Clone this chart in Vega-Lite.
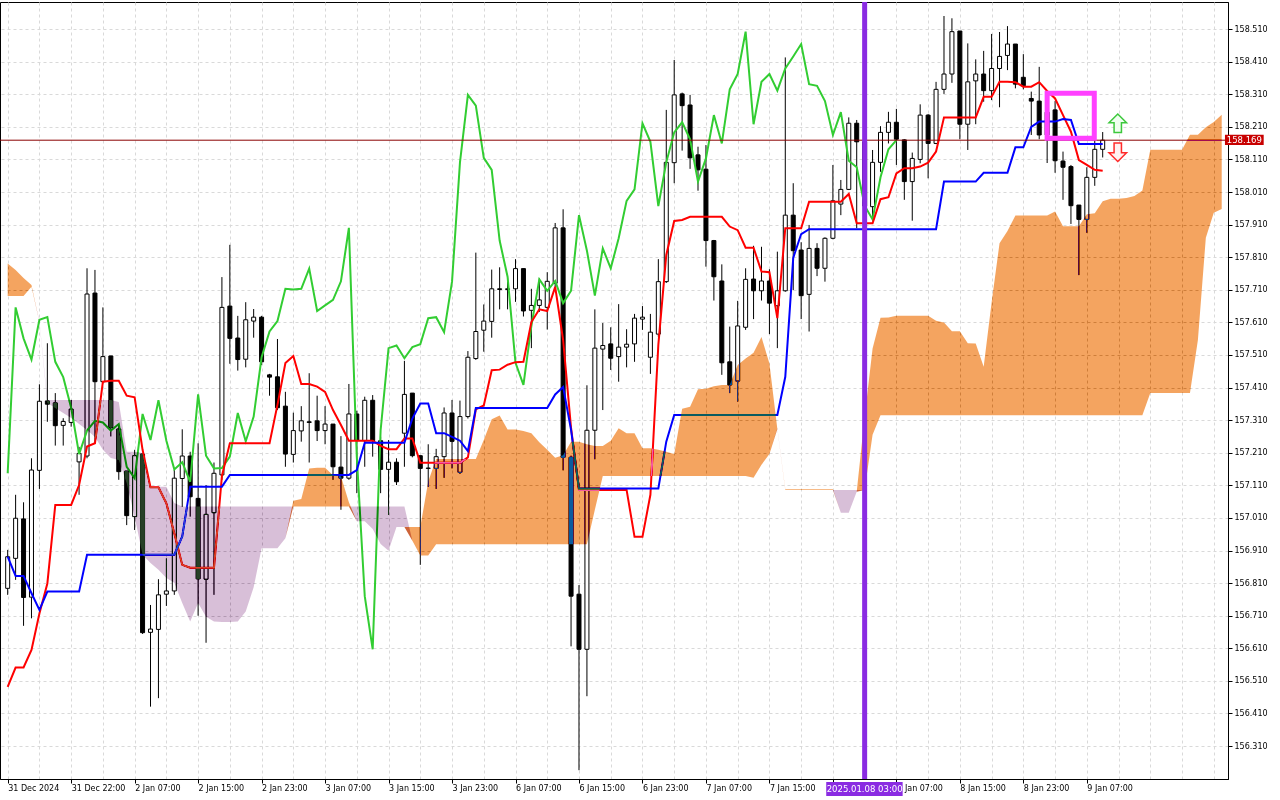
{
  "$schema": "https://vega.github.io/schema/vega-lite/v6.json",
  "width": 1228,
  "height": 777,
  "autosize": {"type": "none"},
  "padding": {"left": 0, "top": 2, "right": 52, "bottom": 21},
  "background": "white",
  "config": {
    "view": {"stroke": "black", "strokeWidth": 1},
    "axis": {
      "labelFont": "DejaVu Sans",
      "labelFontSize": 8,
      "labelColor": "black",
      "labelOverlap": false,
      "domainColor": "black",
      "tickColor": "black",
      "gridColor": "#d9d9d9",
      "gridDash": [3, 3],
      "gridWidth": 1
    }
  },
  "datasets": {
    "bars": [
      {"i":0,"o":156.794,"h":156.912,"l":156.774,"c":156.891,"t":156.492,"k":156.891,"ch":157.147},
      {"i":1,"o":156.886,"h":157.081,"l":156.820,"c":157.009,"t":156.551,"k":156.832,"ch":157.656},
      {"i":2,"o":157.007,"h":157.058,"l":156.679,"c":156.766,"t":156.551,"k":156.832,"ch":157.561},
      {"i":3,"o":156.767,"h":157.193,"l":156.702,"c":157.157,"t":156.605,"k":156.779,"ch":157.496},
      {"i":4,"o":157.156,"h":157.420,"l":157.099,"c":157.368,"t":156.717,"k":156.728,"ch":157.618},
      {"i":5,"o":157.369,"h":157.546,"l":157.305,"c":157.359,"t":156.809,"k":156.784,"ch":157.626},
      {"i":6,"o":157.363,"h":157.393,"l":157.232,"c":157.293,"t":157.050,"k":156.784,"ch":157.489},
      {"i":7,"o":157.294,"h":157.316,"l":157.232,"c":157.306,"t":157.050,"k":156.784,"ch":157.442},
      {"i":8,"o":157.303,"h":157.372,"l":157.290,"c":157.344,"t":157.050,"k":156.784,"ch":157.348},
      {"i":9,"o":157.182,"h":157.228,"l":157.081,"c":157.208,"t":157.111,"k":156.784,"ch":157.206},
      {"i":10,"o":157.200,"h":157.776,"l":157.193,"c":157.697,"t":157.229,"k":156.897,"ch":157.278},
      {"i":11,"o":157.700,"h":157.771,"l":157.239,"c":157.428,"t":157.239,"k":156.897,"ch":157.308},
      {"i":12,"o":157.428,"h":157.656,"l":157.423,"c":157.505,"t":157.428,"k":156.897,"ch":157.303},
      {"i":13,"o":157.507,"h":157.507,"l":157.260,"c":157.288,"t":157.431,"k":156.897,"ch":157.278},
      {"i":14,"o":157.283,"h":157.295,"l":157.127,"c":157.152,"t":157.431,"k":156.897,"ch":157.298},
      {"i":15,"o":157.154,"h":157.154,"l":156.988,"c":157.017,"t":157.385,"k":156.897,"ch":157.167},
      {"i":16,"o":157.014,"h":157.219,"l":156.973,"c":157.201,"t":157.380,"k":156.897,"ch":157.132},
      {"i":17,"o":157.206,"h":157.206,"l":156.654,"c":156.658,"t":157.219,"k":156.897,"ch":157.329},
      {"i":18,"o":156.659,"h":156.743,"l":156.431,"c":156.669,"t":157.104,"k":156.897,"ch":157.249},
      {"i":19,"o":156.668,"h":156.822,"l":156.457,"c":156.774,"t":157.104,"k":156.897,"ch":157.371},
      {"i":20,"o":156.776,"h":156.886,"l":156.740,"c":156.786,"t":157.055,"k":156.897,"ch":157.247},
      {"i":21,"o":156.786,"h":157.157,"l":156.774,"c":157.132,"t":156.963,"k":156.897,"ch":157.159},
      {"i":22,"o":157.131,"h":157.282,"l":157.044,"c":157.200,"t":156.866,"k":156.953,"ch":157.181},
      {"i":23,"o":157.200,"h":157.213,"l":157.014,"c":157.075,"t":156.857,"k":157.106,"ch":157.121},
      {"i":24,"o":157.070,"h":157.239,"l":156.710,"c":156.823,"t":156.857,"k":157.106,"ch":157.389},
      {"i":25,"o":156.822,"h":157.111,"l":156.627,"c":157.021,"t":156.857,"k":157.106,"ch":157.201},
      {"i":26,"o":157.026,"h":157.180,"l":156.774,"c":157.147,"t":156.857,"k":157.106,"ch":157.162},
      {"i":27,"o":157.142,"h":157.749,"l":157.127,"c":157.656,"t":157.139,"k":157.106,"ch":157.163},
      {"i":28,"o":157.660,"h":157.848,"l":157.483,"c":157.561,"t":157.239,"k":157.142,"ch":157.198},
      {"i":29,"o":157.562,"h":157.630,"l":157.462,"c":157.496,"t":157.239,"k":157.142,"ch":157.332},
      {"i":30,"o":157.497,"h":157.672,"l":157.472,"c":157.618,"t":157.239,"k":157.142,"ch":157.245},
      {"i":31,"o":157.614,"h":157.651,"l":157.563,"c":157.626,"t":157.239,"k":157.142,"ch":157.321},
      {"i":32,"o":157.626,"h":157.630,"l":157.479,"c":157.489,"t":157.239,"k":157.142,"ch":157.503},
      {"i":33,"o":157.449,"h":157.452,"l":157.385,"c":157.442,"t":157.239,"k":157.142,"ch":157.582},
      {"i":34,"o":157.443,"h":157.559,"l":157.341,"c":157.348,"t":157.357,"k":157.142,"ch":157.614},
      {"i":35,"o":157.353,"h":157.397,"l":157.167,"c":157.206,"t":157.485,"k":157.142,"ch":157.713},
      {"i":36,"o":157.205,"h":157.333,"l":157.180,"c":157.278,"t":157.507,"k":157.142,"ch":157.711},
      {"i":37,"o":157.277,"h":157.353,"l":157.244,"c":157.308,"t":157.421,"k":157.142,"ch":157.713},
      {"i":38,"o":157.305,"h":157.454,"l":157.180,"c":157.303,"t":157.421,"k":157.142,"ch":157.775},
      {"i":39,"o":157.308,"h":157.385,"l":157.246,"c":157.278,"t":157.413,"k":157.142,"ch":157.645},
      {"i":40,"o":157.278,"h":157.353,"l":157.236,"c":157.298,"t":157.397,"k":157.142,"ch":157.662},
      {"i":41,"o":157.298,"h":157.298,"l":157.127,"c":157.167,"t":157.341,"k":157.142,"ch":157.679},
      {"i":42,"o":157.166,"h":157.261,"l":157.035,"c":157.132,"t":157.295,"k":157.142,"ch":157.736},
      {"i":43,"o":157.132,"h":157.421,"l":157.127,"c":157.329,"t":157.247,"k":157.142,"ch":157.900},
      {"i":44,"o":157.329,"h":157.339,"l":157.086,"c":157.249,"t":157.247,"k":157.157,"ch":157.196},
      {"i":45,"o":157.247,"h":157.382,"l":157.167,"c":157.371,"t":157.247,"k":157.241,"ch":156.770},
      {"i":46,"o":157.371,"h":157.387,"l":157.198,"c":157.247,"t":157.247,"k":157.241,"ch":156.607},
      {"i":47,"o":157.247,"h":157.259,"l":157.086,"c":157.159,"t":157.231,"k":157.241,"ch":157.279},
      {"i":48,"o":157.159,"h":157.249,"l":157.019,"c":157.181,"t":157.221,"k":157.241,"ch":157.531},
      {"i":49,"o":157.181,"h":157.193,"l":157.111,"c":157.121,"t":157.221,"k":157.241,"ch":157.539},
      {"i":50,"o":157.270,"h":157.492,"l":157.167,"c":157.389,"t":157.254,"k":157.241,"ch":157.500},
      {"i":51,"o":157.393,"h":157.393,"l":157.196,"c":157.201,"t":157.254,"k":157.315,"ch":157.534},
      {"i":52,"o":157.201,"h":157.201,"l":156.866,"c":157.162,"t":157.179,"k":157.361,"ch":157.543},
      {"i":53,"o":157.162,"h":157.236,"l":157.105,"c":157.163,"t":157.179,"k":157.361,"ch":157.623},
      {"i":54,"o":157.162,"h":157.222,"l":157.099,"c":157.198,"t":157.179,"k":157.270,"ch":157.626},
      {"i":55,"o":157.198,"h":157.349,"l":157.133,"c":157.332,"t":157.179,"k":157.270,"ch":157.580},
      {"i":56,"o":157.332,"h":157.372,"l":157.162,"c":157.245,"t":157.179,"k":157.259,"ch":157.735},
      {"i":57,"o":157.150,"h":157.370,"l":157.145,"c":157.321,"t":157.179,"k":157.247,"ch":158.101},
      {"i":58,"o":157.321,"h":157.522,"l":157.315,"c":157.503,"t":157.196,"k":157.215,"ch":158.308},
      {"i":59,"o":157.499,"h":157.824,"l":157.495,"c":157.582,"t":157.343,"k":157.347,"ch":158.275},
      {"i":60,"o":157.586,"h":157.665,"l":157.520,"c":157.614,"t":157.355,"k":157.347,"ch":158.115},
      {"i":61,"o":157.613,"h":157.772,"l":157.563,"c":157.713,"t":157.463,"k":157.347,"ch":158.078},
      {"i":62,"o":157.713,"h":157.779,"l":157.650,"c":157.711,"t":157.465,"k":157.347,"ch":157.861},
      {"i":63,"o":157.711,"h":157.747,"l":157.650,"c":157.713,"t":157.480,"k":157.347,"ch":157.750},
      {"i":64,"o":157.713,"h":157.804,"l":157.673,"c":157.775,"t":157.488,"k":157.347,"ch":157.486},
      {"i":65,"o":157.775,"h":157.775,"l":157.628,"c":157.645,"t":157.489,"k":157.347,"ch":157.418},
      {"i":66,"o":157.647,"h":157.713,"l":157.531,"c":157.662,"t":157.611,"k":157.347,"ch":157.599},
      {"i":67,"o":157.662,"h":157.745,"l":157.642,"c":157.679,"t":157.650,"k":157.347,"ch":157.742},
      {"i":68,"o":157.656,"h":157.764,"l":157.588,"c":157.736,"t":157.645,"k":157.347,"ch":157.707},
      {"i":69,"o":157.730,"h":157.915,"l":157.709,"c":157.900,"t":157.719,"k":157.389,"ch":157.737},
      {"i":70,"o":157.900,"h":157.957,"l":157.156,"c":157.196,"t":157.556,"k":157.412,"ch":157.669},
      {"i":71,"o":157.196,"h":157.201,"l":156.616,"c":156.770,"t":157.286,"k":157.280,"ch":157.707},
      {"i":72,"o":156.776,"h":156.804,"l":156.236,"c":156.607,"t":157.096,"k":157.100,"ch":157.939},
      {"i":73,"o":156.607,"h":157.417,"l":156.463,"c":157.279,"t":157.096,"k":157.100,"ch":157.830},
      {"i":74,"o":157.279,"h":157.650,"l":157.190,"c":157.531,"t":157.096,"k":157.100,"ch":157.692},
      {"i":75,"o":157.528,"h":157.608,"l":157.341,"c":157.539,"t":157.096,"k":157.100,"ch":157.837},
      {"i":76,"o":157.544,"h":157.595,"l":157.464,"c":157.500,"t":157.096,"k":157.100,"ch":157.776},
      {"i":77,"o":157.505,"h":157.666,"l":157.428,"c":157.534,"t":157.096,"k":157.100,"ch":157.868},
      {"i":78,"o":157.534,"h":157.589,"l":157.472,"c":157.543,"t":157.096,"k":157.100,"ch":157.983},
      {"i":79,"o":157.544,"h":157.636,"l":157.489,"c":157.623,"t":156.952,"k":157.100,"ch":158.018},
      {"i":80,"o":157.620,"h":157.660,"l":157.587,"c":157.626,"t":156.952,"k":157.100,"ch":158.221},
      {"i":81,"o":157.503,"h":157.636,"l":157.452,"c":157.580,"t":157.081,"k":157.100,"ch":158.164},
      {"i":82,"o":157.574,"h":157.804,"l":157.566,"c":157.735,"t":157.541,"k":157.100,"ch":157.967},
      {"i":83,"o":157.735,"h":158.262,"l":157.731,"c":158.101,"t":157.817,"k":157.244,"ch":158.101},
      {"i":84,"o":158.100,"h":158.415,"l":158.037,"c":158.308,"t":157.921,"k":157.326,"ch":158.193},
      {"i":85,"o":158.311,"h":158.315,"l":158.137,"c":158.275,"t":157.924,"k":157.326,"ch":158.224},
      {"i":86,"o":158.277,"h":158.308,"l":158.081,"c":158.115,"t":157.934,"k":157.326,"ch":158.172},
      {"i":87,"o":158.124,"h":158.149,"l":158.014,"c":158.078,"t":157.934,"k":157.326,"ch":158.042},
      {"i":88,"o":158.080,"h":158.154,"l":157.781,"c":157.861,"t":157.934,"k":157.326,"ch":158.113},
      {"i":89,"o":157.861,"h":157.863,"l":157.677,"c":157.750,"t":157.934,"k":157.326,"ch":158.246},
      {"i":90,"o":157.737,"h":157.788,"l":157.449,"c":157.486,"t":157.934,"k":157.326,"ch":158.159},
      {"i":91,"o":157.489,"h":157.597,"l":157.393,"c":157.418,"t":157.904,"k":157.326,"ch":158.325},
      {"i":92,"o":157.430,"h":157.676,"l":157.367,"c":157.599,"t":157.893,"k":157.326,"ch":158.372},
      {"i":93,"o":157.595,"h":157.776,"l":157.587,"c":157.742,"t":157.839,"k":157.326,"ch":158.502},
      {"i":94,"o":157.743,"h":157.845,"l":157.620,"c":157.707,"t":157.839,"k":157.326,"ch":158.218},
      {"i":95,"o":157.707,"h":157.842,"l":157.677,"c":157.737,"t":157.766,"k":157.326,"ch":158.348},
      {"i":96,"o":157.737,"h":157.773,"l":157.574,"c":157.669,"t":157.764,"k":157.326,"ch":158.372},
      {"i":97,"o":157.661,"h":157.827,"l":157.531,"c":157.707,"t":157.623,"k":157.326,"ch":158.321},
      {"i":98,"o":157.707,"h":158.423,"l":157.704,"c":157.939,"t":157.899,"k":157.443,"ch":158.389},
      {"i":99,"o":157.939,"h":158.037,"l":157.709,"c":157.830,"t":157.899,"k":157.808,"ch":158.426},
      {"i":100,"o":157.832,"h":157.856,"l":157.620,"c":157.692,"t":157.899,"k":157.881,"ch":158.464},
      {"i":101,"o":157.696,"h":157.909,"l":157.582,"c":157.837,"t":157.980,"k":157.896,"ch":158.341},
      {"i":102,"o":157.837,"h":157.853,"l":157.752,"c":157.776,"t":157.980,"k":157.896,"ch":158.336},
      {"i":103,"o":157.776,"h":157.871,"l":157.735,"c":157.868,"t":157.980,"k":157.896,"ch":158.289},
      {"i":104,"o":157.868,"h":158.093,"l":157.865,"c":157.983,"t":157.980,"k":157.896,"ch":158.185},
      {"i":105,"o":157.973,"h":158.047,"l":157.939,"c":158.018,"t":157.980,"k":157.896,"ch":158.255},
      {"i":106,"o":158.018,"h":158.239,"l":158.016,"c":158.221,"t":158.004,"k":157.896,"ch":158.106},
      {"i":107,"o":158.221,"h":158.231,"l":157.899,"c":158.164,"t":157.914,"k":157.896,"ch":158.086},
      {"i":108,"o":158.164,"h":158.185,"l":157.918,"c":157.967,"t":157.914,"k":157.896,"ch":157.968},
      {"i":109,"o":157.965,"h":158.139,"l":157.922,"c":158.101,"t":157.914,"k":157.896,"ch":157.926},
      {"i":110,"o":158.101,"h":158.212,"l":158.072,"c":158.193,"t":157.988,"k":157.896,"ch":158.055},
      {"i":111,"o":158.193,"h":158.256,"l":158.159,"c":158.224,"t":157.994,"k":157.896,"ch":158.141},
      {"i":112,"o":158.224,"h":158.265,"l":158.093,"c":158.172,"t":158.067,"k":157.896,"ch":158.169},
      {"i":113,"o":158.170,"h":158.172,"l":157.986,"c":158.042,"t":158.083,"k":157.896},
      {"i":114,"o":158.042,"h":158.131,"l":157.922,"c":158.113,"t":158.083,"k":157.896},
      {"i":115,"o":158.110,"h":158.279,"l":158.098,"c":158.246,"t":158.088,"k":157.896},
      {"i":116,"o":158.246,"h":158.249,"l":158.052,"c":158.159,"t":158.100,"k":157.896},
      {"i":117,"o":158.159,"h":158.348,"l":158.157,"c":158.325,"t":158.134,"k":157.896},
      {"i":118,"o":158.325,"h":158.550,"l":158.311,"c":158.372,"t":158.239,"k":158.042},
      {"i":119,"o":158.372,"h":158.543,"l":158.345,"c":158.502,"t":158.239,"k":158.042},
      {"i":120,"o":158.504,"h":158.504,"l":158.172,"c":158.218,"t":158.239,"k":158.042},
      {"i":121,"o":158.218,"h":158.466,"l":158.139,"c":158.348,"t":158.239,"k":158.042},
      {"i":122,"o":158.351,"h":158.417,"l":158.218,"c":158.372,"t":158.239,"k":158.042},
      {"i":123,"o":158.372,"h":158.443,"l":158.287,"c":158.321,"t":158.302,"k":158.069},
      {"i":124,"o":158.321,"h":158.495,"l":158.292,"c":158.389,"t":158.302,"k":158.069},
      {"i":125,"o":158.389,"h":158.501,"l":158.270,"c":158.426,"t":158.348,"k":158.069},
      {"i":126,"o":158.429,"h":158.519,"l":158.384,"c":158.464,"t":158.348,"k":158.069},
      {"i":127,"o":158.464,"h":158.464,"l":158.328,"c":158.341,"t":158.347,"k":158.147},
      {"i":128,"o":158.362,"h":158.433,"l":158.325,"c":158.336,"t":158.333,"k":158.147},
      {"i":129,"o":158.297,"h":158.318,"l":158.185,"c":158.289,"t":158.333,"k":158.210},
      {"i":130,"o":158.289,"h":158.394,"l":158.172,"c":158.185,"t":158.347,"k":158.226},
      {"i":131,"o":158.185,"h":158.308,"l":158.099,"c":158.255,"t":158.320,"k":158.226},
      {"i":132,"o":158.262,"h":158.289,"l":158.069,"c":158.106,"t":158.297,"k":158.226},
      {"i":133,"o":158.105,"h":158.134,"l":157.986,"c":158.086,"t":158.246,"k":158.234},
      {"i":134,"o":158.088,"h":158.093,"l":157.912,"c":157.968,"t":158.195,"k":158.231},
      {"i":135,"o":157.970,"h":157.970,"l":157.755,"c":157.926,"t":158.108,"k":158.157},
      {"i":136,"o":157.926,"h":158.086,"l":157.885,"c":158.055,"t":158.093,"k":158.157},
      {"i":137,"o":158.055,"h":158.170,"l":158.029,"c":158.141,"t":158.078,"k":158.157},
      {"i":138,"o":158.141,"h":158.194,"l":158.116,"c":158.169,"t":158.075,"k":158.157}
    ],
    "cloud": [
      {"i":0,"a":157.791,"b":157.691},{"i":1,"a":157.771,"b":157.691},{"i":2,"a":157.746,"b":157.691},
      {"i":3,"a":157.725,"b":157.719},{"i":4,"a":157.611,"b":157.614},{"i":5,"a":157.363,"b":157.372},
      {"i":6,"a":157.347,"b":157.372},{"i":7,"a":157.332,"b":157.372},{"i":8,"a":157.317,"b":157.372},
      {"i":9,"a":157.298,"b":157.372},{"i":10,"a":157.280,"b":157.372},{"i":11,"a":157.258,"b":157.372},
      {"i":12,"a":157.219,"b":157.372},{"i":13,"a":157.194,"b":157.372},{"i":14,"a":157.188,"b":157.366},
      {"i":15,"a":157.117,"b":157.213},{"i":16,"a":157.014,"b":157.213},{"i":17,"a":156.897,"b":157.209},
      {"i":18,"a":156.872,"b":157.106},{"i":19,"a":156.851,"b":157.106},{"i":20,"a":156.826,"b":157.106},
      {"i":21,"a":156.811,"b":157.056},{"i":22,"a":156.749,"b":157.045},{"i":23,"a":156.692,"b":157.045},
      {"i":24,"a":156.749,"b":157.045},{"i":25,"a":156.707,"b":157.045},{"i":26,"a":156.692,"b":157.045},
      {"i":27,"a":156.691,"b":157.045},{"i":28,"a":156.691,"b":157.045},{"i":29,"a":156.692,"b":157.045},
      {"i":30,"a":156.723,"b":157.045},{"i":31,"a":156.797,"b":157.045},{"i":32,"a":156.917,"b":157.045},
      {"i":33,"a":156.917,"b":157.045},{"i":34,"a":156.917,"b":157.045},{"i":35,"a":156.948,"b":157.045},
      {"i":36,"a":157.063,"b":157.045},{"i":37,"a":157.068,"b":157.045},{"i":38,"a":157.162,"b":157.045},
      {"i":39,"a":157.164,"b":157.045},{"i":40,"a":157.164,"b":157.045},{"i":41,"a":157.141,"b":157.045},
      {"i":42,"a":157.138,"b":157.045},{"i":43,"a":157.058,"b":157.045},{"i":44,"a":157.000,"b":157.045},
      {"i":45,"a":157.000,"b":157.045},{"i":46,"a":156.976,"b":157.045},{"i":47,"a":156.930,"b":157.045},
      {"i":48,"a":156.909,"b":157.045},{"i":49,"a":156.982,"b":157.045},{"i":50,"a":156.982,"b":157.045},
      {"i":51,"a":156.982,"b":156.940},{"i":52,"a":156.982,"b":156.895},{"i":53,"a":157.122,"b":156.895},
      {"i":54,"a":157.191,"b":156.929},{"i":55,"a":157.191,"b":156.929},{"i":56,"a":157.191,"b":156.929},
      {"i":57,"a":157.191,"b":156.929},{"i":58,"a":157.191,"b":156.929},{"i":59,"a":157.191,"b":156.929},
      {"i":60,"a":157.249,"b":156.929},{"i":61,"a":157.313,"b":156.929},{"i":62,"a":157.324,"b":156.929},
      {"i":63,"a":157.281,"b":156.929},{"i":64,"a":157.281,"b":156.929},{"i":65,"a":157.277,"b":156.929},
      {"i":66,"a":157.270,"b":156.929},{"i":67,"a":157.242,"b":156.929},{"i":68,"a":157.219,"b":156.929},
      {"i":69,"a":157.195,"b":156.929},{"i":70,"a":157.202,"b":156.929},{"i":71,"a":157.244,"b":156.929},
      {"i":72,"a":157.244,"b":156.929},{"i":73,"a":157.236,"b":156.929},{"i":74,"a":157.231,"b":157.035},
      {"i":75,"a":157.231,"b":157.139},{"i":76,"a":157.247,"b":157.139},{"i":77,"a":157.285,"b":157.139},
      {"i":78,"a":157.270,"b":157.139},{"i":79,"a":157.270,"b":157.139},{"i":80,"a":157.224,"b":157.139},
      {"i":81,"a":157.224,"b":157.139},{"i":82,"a":157.219,"b":157.139},{"i":83,"a":157.213,"b":157.139},
      {"i":84,"a":157.206,"b":157.139},{"i":85,"a":157.345,"b":157.139},{"i":86,"a":157.351,"b":157.139},
      {"i":87,"a":157.405,"b":157.139},{"i":88,"a":157.406,"b":157.139},{"i":89,"a":157.414,"b":157.139},
      {"i":90,"a":157.418,"b":157.139},{"i":91,"a":157.418,"b":157.139},{"i":92,"a":157.479,"b":157.139},
      {"i":93,"a":157.499,"b":157.139},{"i":94,"a":157.517,"b":157.133},{"i":95,"a":157.565,"b":157.173},
      {"i":96,"a":157.484,"b":157.206},{"i":97,"a":157.283,"b":157.286},{"i":98,"a":157.098,"b":157.096},
      {"i":99,"a":157.098,"b":157.096},{"i":100,"a":157.098,"b":157.096},{"i":101,"a":157.098,"b":157.096},
      {"i":102,"a":157.098,"b":157.096},{"i":103,"a":157.098,"b":157.096},{"i":104,"a":157.098,"b":157.096},
      {"i":105,"a":157.026,"b":157.096},{"i":106,"a":157.026,"b":157.096},{"i":107,"a":157.090,"b":157.096},
      {"i":108,"a":157.320,"b":157.096},{"i":109,"a":157.530,"b":157.265},{"i":110,"a":157.624,"b":157.325},
      {"i":111,"a":157.625,"b":157.325},{"i":112,"a":157.630,"b":157.325},{"i":113,"a":157.630,"b":157.325},
      {"i":114,"a":157.630,"b":157.325},{"i":115,"a":157.630,"b":157.325},{"i":116,"a":157.630,"b":157.325},
      {"i":117,"a":157.615,"b":157.325},{"i":118,"a":157.610,"b":157.325},{"i":119,"a":157.583,"b":157.325},
      {"i":120,"a":157.583,"b":157.325},{"i":121,"a":157.546,"b":157.325},{"i":122,"a":157.545,"b":157.325},
      {"i":123,"a":157.474,"b":157.325},{"i":124,"a":157.671,"b":157.325},{"i":125,"a":157.853,"b":157.325},
      {"i":126,"a":157.890,"b":157.325},{"i":127,"a":157.938,"b":157.325},{"i":128,"a":157.938,"b":157.325},
      {"i":129,"a":157.938,"b":157.325},{"i":130,"a":157.938,"b":157.325},{"i":131,"a":157.938,"b":157.325},
      {"i":132,"a":157.950,"b":157.325},{"i":133,"a":157.905,"b":157.325},{"i":134,"a":157.905,"b":157.325},
      {"i":135,"a":157.905,"b":157.325},{"i":136,"a":157.942,"b":157.325},{"i":137,"a":157.945,"b":157.325},
      {"i":138,"a":157.982,"b":157.325},{"i":139,"a":157.989,"b":157.325},{"i":140,"a":157.989,"b":157.325},
      {"i":141,"a":157.992,"b":157.325},{"i":142,"a":157.998,"b":157.325},{"i":143,"a":158.015,"b":157.325},
      {"i":144,"a":158.140,"b":157.393},{"i":145,"a":158.140,"b":157.393},{"i":146,"a":158.140,"b":157.393},
      {"i":147,"a":158.140,"b":157.393},{"i":148,"a":158.140,"b":157.393},{"i":149,"a":158.186,"b":157.393},
      {"i":150,"a":158.186,"b":157.556},{"i":151,"a":158.209,"b":157.870},{"i":152,"a":158.225,"b":157.946},
      {"i":153,"a":158.247,"b":157.958}
    ]
  },
  "layer": [
    {
      "data": {"name": "bars"},
      "mark": {"type": "rule", "color": "black", "strokeWidth": 1},
      "encoding": {
        "x": {
          "field": "i", "type": "quantitative",
          "scale": {"domain": [-0.3375, 153.1625], "nice": false, "zero": false},
          "axis": {
            "orient": "bottom",
            "title": null,
            "values": [0,4,8,12,16,20,24,28,32,36,40,44,48,52,56,60,64,68,72,76,80,84,88,92,96,100,104,108,112,116,120,124,128,132,136,140,144,148,152],
            "tickCount": 200,
            "grid": true,
            "tickSize": 4,
            "tickOpacity": {"condition": {"test": "datum.value % 8 === 0 && datum.value <= 136", "value": 1}, "value": 0},
            "labelExpr": "datum.value % 8 === 0 && datum.value <= 136 && datum.value !== 104 ? ['31 Dec 2024','31 Dec 22:00','2 Jan 07:00','2 Jan 15:00','2 Jan 23:00','3 Jan 07:00','3 Jan 15:00','3 Jan 23:00','6 Jan 07:00','6 Jan 15:00','6 Jan 23:00','7 Jan 07:00','7 Jan 15:00','7 Jan 23:00','Jan 07:00','8 Jan 15:00','8 Jan 23:00','9 Jan 07:00'][datum.value / 8] : ''",
            "labelAlign": "left",
            "labelBaseline": "top",
            "labelPadding": 1,
            "labelOffset": {"condition": {"test": "datum.value === 112", "value": 8}, "value": 0},
            "labelOverlap": false,
            "labelFlush": false,
            "labelBound": false
          }
        },
        "y": {
          "field": "l", "type": "quantitative",
          "scale": {"domain": [156.209, 158.593], "nice": false, "zero": false},
          "axis": {
            "orient": "right",
            "title": null,
            "values": [156.31,156.41,156.51,156.61,156.71,156.81,156.91,157.01,157.11,157.21,157.31,157.41,157.51,157.61,157.71,157.81,157.91,158.01,158.11,158.21,158.31,158.41,158.51],
            "tickCount": 200,
            "format": ".3f",
            "grid": true,
            "tickSize": 4,
            "labelPadding": 2,
            "labelOverlap": false
          }
        },
        "y2": {"field": "h"}
      }
    },
    {
      "data": {"name": "bars"},
      "mark": {"type": "bar", "width": 4, "stroke": "black", "strokeWidth": 1},
      "encoding": {
        "x": {"field": "i", "type": "quantitative", "title": null},
        "y": {"field": "o", "type": "quantitative", "title": null},
        "y2": {"field": "c"},
        "fill": {"condition": {"test": "datum.c >= datum.o", "value": "white"}, "value": "black"}
      }
    },
    {
      "data": {"name": "bars"},
      "mark": {"type": "line", "color": "#32cd32", "strokeWidth": 2},
      "encoding": {
        "x": {"field": "i", "type": "quantitative", "title": null},
        "y": {"field": "ch", "type": "quantitative", "title": null}
      }
    },
    {
      "data": {"name": "bars"},
      "mark": {"type": "line", "color": "#ff0000", "strokeWidth": 2},
      "encoding": {
        "x": {"field": "i", "type": "quantitative", "title": null},
        "y": {"field": "t", "type": "quantitative", "title": null}
      }
    },
    {
      "data": {"name": "bars"},
      "mark": {"type": "line", "color": "#0000ff", "strokeWidth": 2},
      "encoding": {
        "x": {"field": "i", "type": "quantitative", "title": null},
        "y": {"field": "k", "type": "quantitative", "title": null}
      }
    },
    {
      "data": {"values": [{"p": 158.169}]},
      "mark": {"type": "rule", "color": "#8a0000", "strokeWidth": 1},
      "encoding": {
        "y": {"field": "p", "type": "quantitative", "title": null}
      }
    },
    {
      "data": {"name": "cloud"},
      "transform": [{"calculate": "min(datum.a, datum.b)", "as": "lo"}],
      "mark": {"type": "area", "color": "#0b5b9f", "blend": "difference"},
      "encoding": {
        "x": {"field": "i", "type": "quantitative", "title": null},
        "y": {"field": "a", "type": "quantitative", "title": null},
        "y2": {"field": "lo"}
      }
    },
    {
      "data": {"name": "cloud"},
      "transform": [{"calculate": "min(datum.a, datum.b)", "as": "lo"}],
      "mark": {"type": "area", "color": "#274027", "blend": "difference"},
      "encoding": {
        "x": {"field": "i", "type": "quantitative", "title": null},
        "y": {"field": "b", "type": "quantitative", "title": null},
        "y2": {"field": "lo"}
      }
    },
    {
      "data": {"values": [{"i": 108}]},
      "mark": {"type": "rule", "color": "#8a2be2", "strokeWidth": 5},
      "encoding": {
        "x": {"field": "i", "type": "quantitative", "title": null}
      }
    },
    {
      "data": {"values": [{"i1": 131, "i2": 136.94, "p1": 158.175, "p2": 158.313}]},
      "mark": {"type": "rect", "fillOpacity": 0, "stroke": "#ff40ff", "strokeWidth": 5},
      "encoding": {
        "x": {"field": "i1", "type": "quantitative", "title": null},
        "x2": {"field": "i2"},
        "y": {"field": "p1", "type": "quantitative", "title": null},
        "y2": {"field": "p2"}
      }
    },
    {
      "data": {"values": [{"i": 139.9, "p": 158.221}]},
      "mark": {"type": "point", "shape": "M0,-1L0.95,-0.05L0.4,-0.05L0.4,1L-0.4,1L-0.4,-0.05L-0.95,-0.05Z", "size": 340, "filled": true, "fill": "#effff0", "stroke": "#3cc83c", "strokeWidth": 1.5, "opacity": 1},
      "encoding": {
        "x": {"field": "i", "type": "quantitative", "title": null},
        "y": {"field": "p", "type": "quantitative", "title": null}
      }
    },
    {
      "data": {"values": [{"i": 139.9, "p": 158.132}]},
      "mark": {"type": "point", "shape": "M0,1L0.95,0.05L0.4,0.05L0.4,-1L-0.4,-1L-0.4,0.05L-0.95,0.05Z", "size": 340, "filled": true, "fill": "#fff0f0", "stroke": "#ff2a2a", "strokeWidth": 1.5, "opacity": 1},
      "encoding": {
        "x": {"field": "i", "type": "quantitative", "title": null},
        "y": {"field": "p", "type": "quantitative", "title": null}
      }
    },
    {
      "data": {"values": [{"x1": 153.41, "x2": 158.29, "y1": 158.154, "y2": 158.186}]},
      "mark": {"type": "rect", "fill": "#c80000"},
      "encoding": {
        "x": {"field": "x1", "type": "quantitative", "title": null},
        "x2": {"field": "x2"},
        "y": {"field": "y1", "type": "quantitative", "title": null},
        "y2": {"field": "y2"}
      }
    },
    {
      "data": {"values": [{"i": 155.85, "p": 158.170, "txt": "158.169"}]},
      "mark": {"type": "text", "color": "white", "font": "DejaVu Sans", "fontSize": 8.5, "align": "center", "baseline": "middle"},
      "encoding": {
        "x": {"field": "i", "type": "quantitative", "title": null},
        "y": {"field": "p", "type": "quantitative", "title": null},
        "text": {"field": "txt"}
      }
    },
    {
      "data": {"values": [{"x1": 103.16, "x2": 112.79, "y1": 156.157, "y2": 156.200}]},
      "mark": {"type": "rect", "fill": "#8a2be2"},
      "encoding": {
        "x": {"field": "x1", "type": "quantitative", "title": null},
        "x2": {"field": "x2"},
        "y": {"field": "y1", "type": "quantitative", "title": null},
        "y2": {"field": "y2"}
      }
    },
    {
      "data": {"values": [{"i": 108, "p": 156.179, "txt": "2025.01.08 03:00"}]},
      "mark": {"type": "text", "color": "white", "font": "DejaVu Sans", "fontSize": 8.5, "align": "center", "baseline": "middle"},
      "encoding": {
        "x": {"field": "i", "type": "quantitative", "title": null},
        "y": {"field": "p", "type": "quantitative", "title": null},
        "text": {"field": "txt"}
      }
    }
  ]
}
